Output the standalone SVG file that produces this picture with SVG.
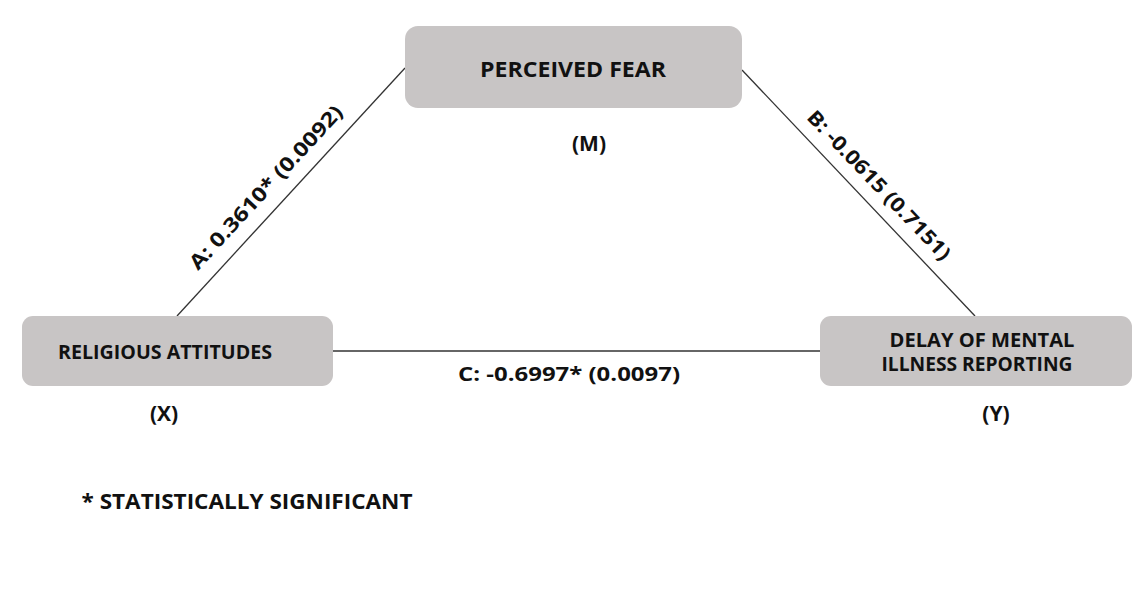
<svg xmlns="http://www.w3.org/2000/svg" width="1144" height="592" viewBox="0 0 1144 592">
<style>
.box{fill:#c8c5c5}
.t{font-family:"Open Sans","Liberation Sans",sans-serif;font-weight:700;fill:#111;text-anchor:middle}
.edge{stroke:#333;stroke-width:1.3;fill:none}
</style>
<rect width="1144" height="592" fill="#fff"/>
<g id="connectors">
<line class="edge" x1="177" y1="316" x2="405" y2="68"/>
<line class="edge" x1="742" y1="70" x2="975" y2="316"/>
<line class="edge" x1="332" y1="351" x2="820" y2="351"/>
<text class="t" font-size="20" textLength="215" lengthAdjust="spacingAndGlyphs" transform="translate(271,192) rotate(-47.3)">A: 0.3610* (0.0092)</text>
<text class="t" font-size="20" textLength="198" lengthAdjust="spacingAndGlyphs" transform="translate(874,190) rotate(46.4)">B: -0.0615 (0.7151)</text>
<text class="t" font-size="20" textLength="222" lengthAdjust="spacingAndGlyphs" x="569" y="381">C: -0.6997* (0.0097)</text>
</g>
<g id="node-m">
<rect class="box" x="405" y="26" width="337" height="82" rx="13"/>
<text class="t" font-size="22" textLength="186" lengthAdjust="spacingAndGlyphs" x="573" y="77">PERCEIVED FEAR</text>
<text class="t" font-size="21" x="589" y="151">(M)</text>
</g>
<g id="node-x">
<rect class="box" x="22" y="316" width="311" height="70" rx="11"/>
<text class="t" font-size="19" textLength="214" lengthAdjust="spacingAndGlyphs" x="165" y="359">RELIGIOUS ATTITUDES</text>
<text class="t" font-size="21" x="164" y="421">(X)</text>
</g>
<g id="node-y">
<rect class="box" x="820" y="316" width="312" height="70" rx="11"/>
<text class="t" font-size="19" textLength="185" lengthAdjust="spacingAndGlyphs" x="982" y="347">DELAY OF MENTAL</text>
<text class="t" font-size="19" textLength="191" lengthAdjust="spacingAndGlyphs" x="977" y="371">ILLNESS REPORTING</text>
<text class="t" font-size="21" x="996" y="421">(Y)</text>
</g>
<g id="legend">
<text class="t" font-size="21" textLength="331" lengthAdjust="spacingAndGlyphs" x="247" y="509">* STATISTICALLY SIGNIFICANT</text>
</g>
</svg>
